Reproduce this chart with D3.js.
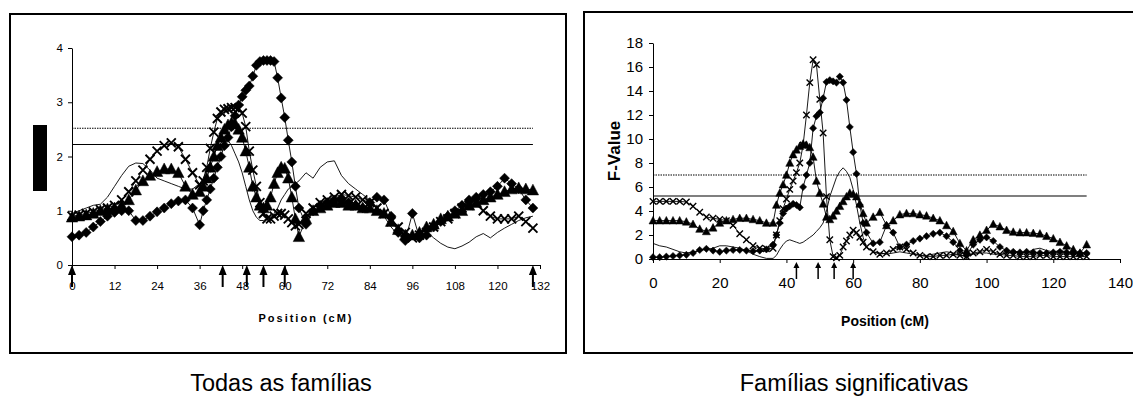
<!DOCTYPE html>
<html>
<head>
<meta charset="utf-8">
<script src="https://cdn.jsdelivr.net/npm/d3@7"></script>
<style>
  body { margin: 0; background: #fff; }
  svg { display: block; font-family: Arial, "Liberation Sans", sans-serif; }
</style>
</head>
<body>
<svg id="chart" width="1133" height="403"></svg>
<script>
// map positions (cM), shared by both panels
var positions = [0,2,4,6,8,10,12,14,16,18,20,22,24,26,28,30,32,34,36,
  37,38,39,40,41,42,43,44,45,46,47,48,49,50,51,52,53,54,55,56,57,58,59,60,61,62,63,64,
  66,68,70,72,74,76,78,80,82,84,86,88,90,92,94,96,98,100,102,104,106,108,110,112,114,116,118,120,122,124,126,128,130];

// --- Todas as famílias ---
var diamondL = [0.52,0.55,0.6,0.7,0.8,0.9,0.97,1.0,1.0,0.82,0.82,0.9,0.98,1.05,1.13,1.18,1.2,1.05,0.74,
  1.0,1.2,1.4,1.6,1.8,2.0,2.2,2.35,2.55,2.75,2.95,3.1,3.22,3.3,3.48,3.68,3.75,3.77,3.77,3.77,3.75,3.45,3.08,2.72,2.3,1.9,1.45,1.05,
  0.75,1.0,1.1,1.15,1.2,1.2,1.15,1.1,1.05,1.15,1.25,1.2,0.9,0.6,0.45,0.95,0.5,0.55,0.7,0.8,0.9,1.0,1.1,1.2,1.25,1.3,1.35,1.45,1.6,1.5,1.4,1.2,1.05];
var triangleL = [0.88,0.9,0.92,0.95,1.0,1.03,1.05,1.1,1.2,1.38,1.55,1.65,1.72,1.77,1.77,1.7,1.45,1.3,1.35,
  1.45,1.6,1.8,2.0,2.2,2.35,2.5,2.58,2.62,2.6,2.5,2.35,2.1,1.8,1.45,1.25,1.1,1.05,1.1,1.25,1.5,1.7,1.8,1.78,1.6,1.25,0.85,0.52,
  0.85,1.0,1.05,1.1,1.15,1.15,1.1,1.1,1.05,1.05,1.0,0.95,0.8,0.65,0.55,0.55,0.6,0.7,0.75,0.85,0.9,0.95,1.0,1.1,1.15,1.2,1.25,1.3,1.35,1.4,1.42,1.4,1.38];
var crossL = [0.9,0.92,0.95,0.98,1.02,1.05,1.1,1.2,1.35,1.55,1.75,1.95,2.1,2.2,2.25,2.18,1.95,1.7,1.48,
  1.55,1.8,2.15,2.45,2.7,2.82,2.87,2.88,2.9,2.9,2.88,2.8,2.55,2.1,1.75,1.45,1.15,0.95,0.85,0.85,0.9,0.95,0.95,0.92,0.85,0.78,0.72,0.75,
  0.95,1.05,1.15,1.2,1.25,1.3,1.28,1.25,1.2,1.15,1.05,0.95,0.8,0.7,0.6,0.5,0.55,0.6,0.7,0.8,0.85,0.95,1.05,1.1,1.15,1.0,0.9,0.85,0.85,0.85,0.9,0.8,0.68];
var lineL = [0.95,1.0,1.05,1.1,1.12,1.25,1.45,1.65,1.82,1.88,1.87,1.75,1.6,1.55,1.5,1.45,1.4,1.4,1.5,
  1.6,1.75,1.9,2.05,2.15,2.25,2.3,2.3,2.2,2.05,1.9,1.7,1.45,1.2,1.0,0.88,0.82,0.82,0.85,0.88,0.95,1.05,1.2,1.3,1.4,1.45,1.5,1.55,
  1.7,1.6,1.8,1.9,1.92,1.65,1.5,1.4,1.3,1.2,1.05,0.9,0.7,0.55,0.5,0.55,0.6,0.62,0.5,0.4,0.33,0.3,0.35,0.42,0.52,0.58,0.5,0.6,0.68,0.75,0.82,0.87,0.9];
var thresholdsL = [2.52, 2.22];
var markersL = [0, 42.5, 49.3, 54, 60, 130];
var xTicksL = [0,12,24,36,48,60,72,84,96,108,120,132];
var yTicksL = [0,1,2,3,4];

// --- Famílias significativas ---
var diamondR = [0.15,0.15,0.2,0.25,0.3,0.35,0.5,0.75,0.85,0.7,0.6,0.7,0.75,0.75,0.7,0.65,0.7,0.8,1.2,
  2.0,3.0,3.8,4.2,4.4,4.6,4.5,4.3,6.0,7.0,8.0,10.9,11.9,12.2,13.4,14.75,14.9,14.8,14.7,15.2,14.7,13.25,11.0,8.9,7.1,4.5,3.0,2.2,
  1.3,1.4,2.8,2.2,1.0,1.2,1.5,1.7,1.9,2.1,2.2,1.9,1.4,0.7,0.3,1.2,1.6,1.8,1.5,1.0,0.7,0.6,0.55,0.6,0.55,0.5,0.5,0.55,0.6,0.55,0.5,0.5,0.5];
var triangleR = [3.2,3.2,3.2,3.2,3.2,3.1,2.9,2.5,2.3,2.6,3.0,3.2,3.3,3.4,3.4,3.3,3.2,3.0,3.0,
  4.5,5.5,6.2,7.0,8.0,8.7,9.1,9.4,9.6,9.5,9.3,8.5,6.5,5.5,4.6,3.5,3.3,3.6,4.0,4.4,4.8,5.2,5.5,5.4,5.2,4.6,3.8,3.0,
  3.5,3.9,2.8,3.2,3.7,3.8,3.8,3.7,3.6,3.4,3.2,2.8,2.3,1.3,0.7,1.6,2.0,2.4,2.9,2.7,2.4,2.25,2.2,2.2,2.15,2.1,1.9,1.7,1.4,1.1,0.8,0.5,1.2];
var crossR = [4.8,4.8,4.8,4.8,4.8,4.75,4.4,3.9,3.5,3.4,3.3,3.2,2.8,2.1,1.6,1.1,0.9,0.85,0.9,
  2.0,3.2,4.2,5.0,5.8,6.5,7.2,8.0,9.5,12.0,14.7,16.6,16.2,13.3,10.5,5.2,1.6,0.2,0.1,0.3,1.0,1.5,2.0,2.4,2.2,1.8,1.4,1.0,
  0.6,0.4,0.5,0.8,1.0,0.8,0.5,0.3,0.2,0.2,0.3,0.3,0.4,0.3,0.2,0.5,0.6,0.8,0.6,0.4,0.3,0.3,0.2,0.2,0.2,0.3,0.3,0.2,0.2,0.2,0.2,0.2,0.2];
var lineR = [1.3,1.1,1.0,0.8,0.6,0.5,0.6,0.7,0.8,0.9,1.1,1.1,1.0,0.9,0.7,0.4,0.2,0.05,0.05,
  0.3,0.8,1.2,1.5,1.6,1.5,1.4,1.3,1.4,1.6,1.8,2.0,2.3,2.6,3.0,4.0,5.2,6.0,6.8,7.3,7.6,7.3,6.8,5.8,4.5,3.0,1.8,1.0,
  0.6,0.5,0.4,0.5,0.6,0.5,0.4,0.3,0.3,0.4,0.5,0.6,0.5,0.3,0.3,0.4,0.5,0.5,0.4,0.4,0.5,0.6,0.6,0.5,0.8,0.9,0.7,0.6,0.7,0.6,0.5,0.5,0.5];
var thresholdsR = [7.0, 5.25];
var markersR = [43, 49.5, 54.3, 60];
var xTicksR = [0,20,40,60,80,100,120,140];
var yTicksR = [0,2,4,6,8,10,12,14,16,18];

var svg = d3.select("#chart");
svg.append("rect").attr("width", 1133).attr("height", 403).attr("fill", "#fff");

// marker shapes, r = half size
function diamond(r) { return "M0," + (-r) + "L" + r + ",0L0," + r + "L" + (-r) + ",0Z"; }
function triangle(r) { return "M0," + (-r) + "L" + (r * 0.95) + "," + (r * 0.8) + "L" + (-r * 0.95) + "," + (r * 0.8) + "Z"; }
function cross(r) { return "M" + (-r) + "," + (-r) + "L" + r + "," + r + "M" + (-r) + "," + r + "L" + r + "," + (-r); }

function drawPanel(p) {
  var g = svg.append("g");
  g.append("rect")
    .attr("x", p.frame[0]).attr("y", p.frame[1])
    .attr("width", p.frame[2]).attr("height", p.frame[3])
    .attr("fill", "none").attr("stroke", "#000").attr("stroke-width", 2);

  var x = d3.scaleLinear().domain(p.xDomain).range(p.xRange);
  var y = d3.scaleLinear().domain(p.yDomain).range(p.yRange);

  var xa = g.append("g").attr("transform", "translate(0," + p.yRange[0] + ")")
    .call(d3.axisBottom(x).tickValues(p.xTicks).tickFormat(d3.format("d"))
      .tickSize(4).tickSizeOuter(0).tickPadding(p.xPad));
  var ya = g.append("g").attr("transform", "translate(" + p.xRange[0] + ",0)")
    .call(d3.axisLeft(y).tickValues(p.yTicks).tickFormat(d3.format("d"))
      .tickSize(4).tickSizeOuter(0).tickPadding(p.yPad));
  [xa, ya].forEach(function(a) {
    a.selectAll("text").attr("font-size", p.tickFont).attr("fill", "#000")
      .attr("font-family", "Arial, 'Liberation Sans', sans-serif");
    a.selectAll("line,path").attr("stroke", "#000");
  });

  // threshold lines
  g.selectAll(".thr").data(p.thresholds).enter().append("line")
    .attr("x1", x(0)).attr("x2", x(130))
    .attr("y1", function(d) { return y(d); }).attr("y2", function(d) { return y(d); })
    .attr("stroke", "#000").attr("stroke-width", 1.1)
    .attr("stroke-dasharray", function(d, i) { return i === 0 ? "1.5,1" : null; });

  var line = d3.line().x(function(d) { return x(d[0]); }).y(function(d) { return y(d[1]); });

  p.series.forEach(function(s) {
    var pts = positions.map(function(pos, i) { return [pos, s.values[i]]; });
    g.append("path").datum(pts).attr("d", line)
      .attr("fill", "none").attr("stroke", "#000").attr("stroke-width", 0.9);
    if (!s.shape) return;
    g.selectAll(null).data(pts).enter().append("path")
      .attr("transform", function(d) { return "translate(" + x(d[0]) + "," + y(d[1]) + ")"; })
      .attr("d", s.shape(s.r))
      .attr("fill", s.shape === cross ? "none" : "#000")
      .attr("stroke", "#000")
      .attr("stroke-width", s.shape === cross ? s.sw : 0.5);
  });

  // marker arrows under the axis
  var a = p.arrow;
  g.selectAll(".arr").data(p.markers).enter().append("path")
    .attr("transform", function(d) { return "translate(" + x(d) + "," + (p.yRange[0] + a.off) + ")"; })
    .attr("d", "M0,0L" + (a.w / 2) + "," + a.h + "L" + (a.s / 2) + "," + a.h + "L" + (a.s / 2) + "," + a.len +
      "L" + (-a.s / 2) + "," + a.len + "L" + (-a.s / 2) + "," + a.h + "L" + (-a.w / 2) + "," + a.h + "Z")
    .attr("fill", "#000");

  g.append("text").attr("x", p.xLabel[0]).attr("y", p.xLabel[1])
    .attr("text-anchor", "middle").attr("font-weight", "bold")
    .attr("font-size", p.xLabel[2]).attr("letter-spacing", p.xLabel[3]).text("Position (cM)");
  return g;
}

var left = drawPanel({
  frame: [10, 14, 556, 339],
  xDomain: [0, 132], xRange: [72, 540],
  yDomain: [0, 4], yRange: [265, 48],
  xTicks: xTicksL, yTicks: yTicksL, xPad: 13, yPad: 5, tickFont: 11.5,
  thresholds: thresholdsL, markers: markersL,
  arrow: { off: 0, w: 8, h: 10, s: 2, len: 22 },
  series: [
    { values: lineL },
    { values: crossL, shape: cross, r: 4.5, sw: 1.9 },
    { values: triangleL, shape: triangle, r: 6 },
    { values: diamondL, shape: diamond, r: 5 }
  ],
  xLabel: [306, 322, 11, 2]
});
// blacked-out y axis title
left.append("rect").attr("x", 33).attr("y", 125).attr("width", 14).attr("height", 66).attr("fill", "#000");

var right = drawPanel({
  frame: [584, 12, 552, 341],
  xDomain: [0, 140], xRange: [653, 1120],
  yDomain: [0, 18], yRange: [259, 43],
  xTicks: xTicksR, yTicks: yTicksR, xPad: 14, yPad: 6, tickFont: 15,
  thresholds: thresholdsR, markers: markersR,
  arrow: { off: 3, w: 6, h: 6, s: 1.5, len: 17 },
  series: [
    { values: lineR },
    { values: crossR, shape: cross, r: 3.2, sw: 1.4 },
    { values: triangleR, shape: triangle, r: 4.2 },
    { values: diamondR, shape: diamond, r: 3.6 }
  ],
  xLabel: [885, 326, 14, 0]
});
right.append("text").attr("transform", "translate(620,151) rotate(-90)")
  .attr("text-anchor", "middle").attr("font-weight", "bold").attr("font-size", 17).text("F-Value");

// captions
svg.append("text").attr("x", 281).attr("y", 391).attr("text-anchor", "middle")
  .attr("font-size", 23.5).text("Todas as famílias");
svg.append("text").attr("x", 854).attr("y", 391).attr("text-anchor", "middle")
  .attr("font-size", 23.5).text("Famílias significativas");
</script>
</body>
</html>
